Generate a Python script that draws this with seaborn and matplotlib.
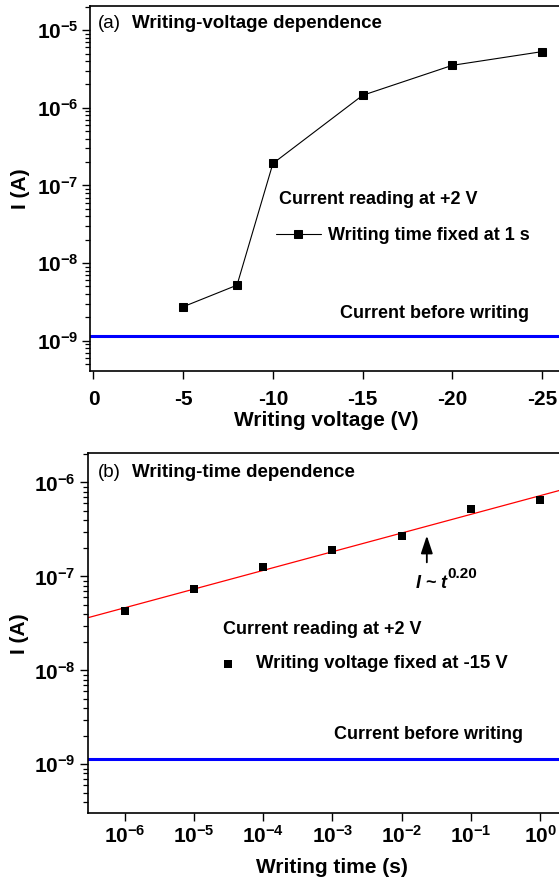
import numpy as np
import pandas as pd
import matplotlib
matplotlib.use("Agg")
import matplotlib.pyplot as plt
import seaborn as sns
from matplotlib.ticker import FixedLocator, FuncFormatter, LogLocator, NullFormatter, NullLocator

# -------------------------
# Data
# -------------------------
# (a) writing-voltage dependence, writing time fixed at 1 s
voltage = [-5, -8, -10, -15, -20, -25]
current_a = [2.74e-9, 5.2e-9, 1.92e-7, 1.45e-6, 3.53e-6, 5.3e-6]
base_a = 1.16e-9
volt_ticks = [0, -5, -10, -15, -20, -25]

# (b) writing-time dependence, writing voltage fixed at -15 V
wtime = [1e-6, 1e-5, 1e-4, 1e-3, 1e-2, 1e-1, 1e0]
current_b = [4.31e-8, 7.33e-8, 1.265e-7, 1.89e-7, 2.70e-7, 5.24e-7, 6.49e-7]
base_b = 1.13e-9
arrow_t = 0.0231
arrow_tip, arrow_tail = 2.91e-7, 1.32e-7

df_a = pd.DataFrame({"V": voltage, "I": current_a})
df_b = pd.DataFrame({"t": wtime, "I": current_b})

# -------------------------
# Style
# -------------------------
sns.set_style("ticks")
plt.rcParams.update({
    "font.family": ["Liberation Sans", "DejaVu Sans"],
    "font.weight": "bold",
    "mathtext.fontset": "custom",
    "mathtext.rm": "Liberation Sans",
    "mathtext.it": "Liberation Sans:italic:bold",
    "mathtext.bf": "Liberation Sans:bold",
    "mathtext.default": "regular",
    "axes.unicode_minus": False,
    "axes.edgecolor": "black",
    "axes.linewidth": 1.2,
    "xtick.color": "black",
    "ytick.color": "black",
    "text.color": "black",
    "axes.labelcolor": "black",
})

W, H = 559, 880
fig = plt.figure(figsize=(W / 100, H / 100), dpi=100)
ax1 = fig.add_axes([0.1614, 0.5784, 0.8404, 0.4146])
ax2 = fig.add_axes([0.1581, 0.0758, 0.8455, 0.4089])

def fx(px):
    return px / W

def fy(py):
    return 1 - py / H

pow_fmt = FuncFormatter(lambda v, p: "10$^{%d}$" % int(round(np.log10(v))))

def log_y(ax):
    ax.set_yscale("log")
    ax.yaxis.set_major_locator(LogLocator(base=10, numticks=20))
    ax.yaxis.set_minor_locator(LogLocator(base=10, subs=np.arange(2, 10), numticks=20))
    ax.yaxis.set_major_formatter(pow_fmt)
    ax.yaxis.set_minor_formatter(NullFormatter())

# -------------------------
# Panel (a)
# -------------------------
sns.lineplot(data=df_a, x="V", y="I", ax=ax1, color="black", lw=0.8,
             marker="s", markersize=5.3, markeredgecolor="black",
             label="Writing time fixed at 1 s")
ax1.axhline(base_a, color="#0000ff", lw=2.2)
log_y(ax1)
ax1.set_ylim(10 ** -9.39, 10 ** -4.69)
ax1.set_xlim(0.18, -26.0)
ax1.xaxis.set_major_locator(FixedLocator(volt_ticks))
ax1.xaxis.set_minor_locator(NullLocator())
ax1.tick_params(axis="both", which="major", length=5.5, width=1, labelsize=15)
ax1.tick_params(axis="both", which="minor", length=3.5, width=0.9)
ax1.tick_params(axis="x", pad=8)
ax1.tick_params(axis="y", pad=3)
ax1.set_xlabel("Writing voltage (V)", fontsize=15, fontweight="bold")
ax1.set_ylabel("I (A)", fontsize=15, fontweight="bold")
ax1.xaxis.set_label_coords(0.502, -0.136)
ax1.xaxis.label.set_verticalalignment("center")
ax1.yaxis.set_label_coords(-0.149, 0.5)
ax1.yaxis.label.set_verticalalignment("center")
ax1.legend(loc="center left", bbox_to_anchor=(fx(276), fy(235.7)),
           bbox_transform=fig.transFigure, frameon=False, borderpad=0,
           borderaxespad=0, handlelength=2.47, handletextpad=0.42,
           prop={"size": 13, "weight": "bold"})

fig.text(fx(98), fy(23), "(a)", fontsize=13.5, fontweight="normal", va="center")
fig.text(fx(131.9), fy(23), "Writing-voltage dependence", fontsize=13.5, va="center")
fig.text(fx(279.3), fy(199), "Current reading at +2 V", fontsize=13, va="center")
fig.text(fx(340), fy(313.3), "Current before writing", fontsize=13, va="center")

# -------------------------
# Panel (b)
# -------------------------
ax2.set_xscale("log")
log_y(ax2)
ax2.set_xlim(3e-7, 2.0)
ax2.set_ylim(10 ** -9.521, 10 ** -5.691)

# power-law fit I ~ t^n
slope, icpt = np.polyfit(np.log10(wtime), np.log10(current_b), 1)
t_fit = np.array(ax2.get_xlim())
sns.lineplot(x=t_fit, y=10 ** icpt * t_fit ** slope, ax=ax2, color="#ff0000", lw=0.9)
sns.scatterplot(data=df_b, x="t", y="I", ax=ax2, marker="s", s=37, color="black",
                edgecolor="black", linewidth=0, zorder=3,
                label="Writing voltage fixed at -15 V")
ax2.axhline(base_b, color="#0000ff", lw=2.2)
ax2.annotate("", xy=(arrow_t, arrow_tip), xytext=(arrow_t, arrow_tail),
             arrowprops=dict(arrowstyle="-|>,head_length=0.9,head_width=0.3",
                             color="black", lw=1.3, mutation_scale=12))
ax2.xaxis.set_major_locator(LogLocator(base=10, numticks=20))
ax2.xaxis.set_minor_locator(NullLocator())
ax2.xaxis.set_major_formatter(pow_fmt)
ax2.tick_params(axis="both", which="major", length=5.5, width=1, labelsize=15)
ax2.tick_params(axis="both", which="minor", length=3.5, width=0.9)
ax2.tick_params(axis="x", pad=3)
ax2.tick_params(axis="y", pad=4)
ax2.set_xlabel("Writing time (s)", fontsize=15, fontweight="bold")
ax2.set_ylabel("I (A)", fontsize=15, fontweight="bold")
ax2.xaxis.set_label_coords(0.5146, -0.150)
ax2.xaxis.label.set_verticalalignment("center")
ax2.yaxis.set_label_coords(-0.1456, 0.5)
ax2.yaxis.label.set_verticalalignment("center")
ax2.legend(loc="center left", bbox_to_anchor=(fx(218.7), fy(664)),
           bbox_transform=fig.transFigure, frameon=False, borderpad=0,
           borderaxespad=0, handlelength=1.0, handletextpad=1.01,
           scatterpoints=1, prop={"size": 13.3, "weight": "bold"})

fig.text(fx(98), fy(472.5), "(b)", fontsize=13.5, fontweight="normal", va="center")
fig.text(fx(131.9), fy(472.5), "Writing-time dependence", fontsize=13.5, va="center")
fig.text(fx(223.3), fy(629), "Current reading at +2 V", fontsize=13, va="center")
fig.text(fx(334.3), fy(734), "Current before writing", fontsize=13, va="center")
fig.text(fx(415), fy(588), r"$\mathit{I}$ ~ $\mathit{t}$", fontsize=13, va="baseline")
fig.text(fx(447.5), fy(578.5), "0.20", fontsize=11, va="baseline")

fig.savefig("out.png", dpi=100)
